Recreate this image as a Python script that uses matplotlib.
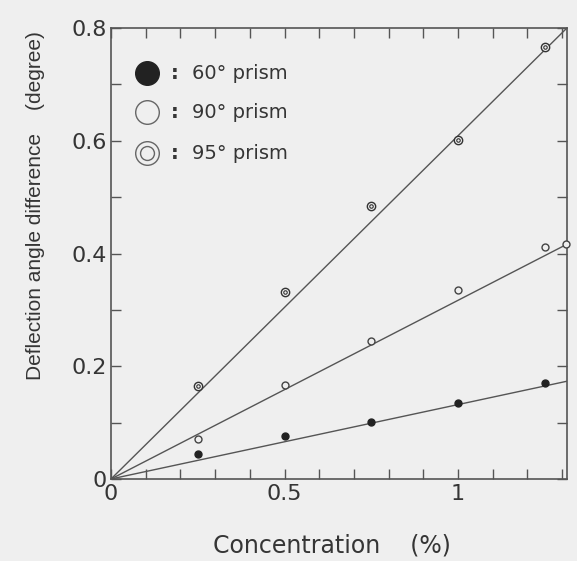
import matplotlib
matplotlib.use("Agg")
import matplotlib.pyplot as plt
import numpy as np

plt.rcParams['font.family'] = ['DejaVu Sans']

conc = [0.25, 0.5, 0.75, 1.0, 1.25]
p60 = [0.044, 0.076, 0.101, 0.135, 0.170]
p90_x = [0.25, 0.5, 0.75, 1.0, 1.25, 1.31]
p90 = [0.071, 0.167, 0.245, 0.335, 0.411, 0.417]
p95 = [0.165, 0.332, 0.484, 0.601, 0.766]
slopes = {'60': 0.132, '90': 0.317, '95': 0.609}
labels = ['60° prism', '90° prism', '95° prism']

XMAX = 1.314
fg = '#353535'
bg = '#efefef'
fig = plt.figure(figsize=(5.77, 5.61), dpi=100, facecolor=bg)
ax = fig.add_axes([0.1924, 0.1462, 0.9827 - 0.1924, 0.950 - 0.1462])
ax.set_facecolor(bg)

xs = np.array([0, XMAX])
for k in ['60', '90', '95']:
    ax.plot(xs, slopes[k] * xs, color='#555555', lw=1.0, zorder=2)

ms = 5
ax.plot(conc, p60, 'o', ms=ms, mfc='#222222', mec='#222222', zorder=3, clip_on=False)
ax.plot(p90_x, p90, 'o', ms=ms, mfc=bg, mec='#444444', mew=1.0, zorder=3, clip_on=False)
ax.plot(conc, p95, 'o', ms=ms + 1, mfc=bg, mec='#333333', mew=1.0, zorder=3)
ax.plot(conc, p95, 'o', ms=2.5, mfc='none', mec='#333333', mew=0.8, zorder=4)

ax.set_xlim(0, XMAX)
ax.set_ylim(0, 0.8)
ax.set_xticks([0, 0.5, 1])
ax.set_xticklabels(['0', '0.5', '1'])
ax.set_xticks(np.arange(0, 1.31, 0.1), minor=True)
ax.set_yticks([0, 0.2, 0.4, 0.6, 0.8])
ax.set_yticklabels(['0', '0.2', '0.4', '0.6', '0.8'])
ax.set_yticks(np.arange(0, 0.81, 0.1), minor=True)
ax.tick_params(which='both', direction='in', top=True, right=True, length=7,
               width=1.0, color='#555555', labelsize=16, labelcolor=fg)
ax.tick_params(axis='y', pad=3)
for s in ax.spines.values():
    s.set_color('#555555')
    s.set_linewidth(1.2)

ax.set_xlabel('Concentration    (%)', fontsize=17, color=fg)
ax.xaxis.set_label_coords(0.484, -0.122)
ax.set_ylabel('Deflection angle difference    (degree)', fontsize=15, color=fg,
              family=['Liberation Sans', 'DejaVu Sans'])
ax.yaxis.set_label_coords(-0.145, 0.607)

# custom legend
leg_y = [0.720, 0.651, 0.578]
leg_x = 0.104
ax.plot([leg_x], [leg_y[0]], 'o', ms=17, mfc='#222222', mec='#222222')
ax.plot([leg_x], [leg_y[1]], 'o', ms=17, mfc=bg, mec='#666666', mew=1.0)
ax.plot([leg_x], [leg_y[2]], 'o', ms=17, mfc=bg, mec='#666666', mew=1.0)
ax.plot([leg_x], [leg_y[2]], 'o', ms=10, mfc='none', mec='#666666', mew=1.0)
for y, lab in zip(leg_y, labels):
    ax.text(0.184, y, ':', fontsize=14, color=fg, va='center', ha='center', fontweight='bold')
    ax.text(0.233, y, lab, fontsize=14, color=fg, va='center', ha='left')

fig.savefig('out.png', dpi=100, facecolor=fig.get_facecolor())
